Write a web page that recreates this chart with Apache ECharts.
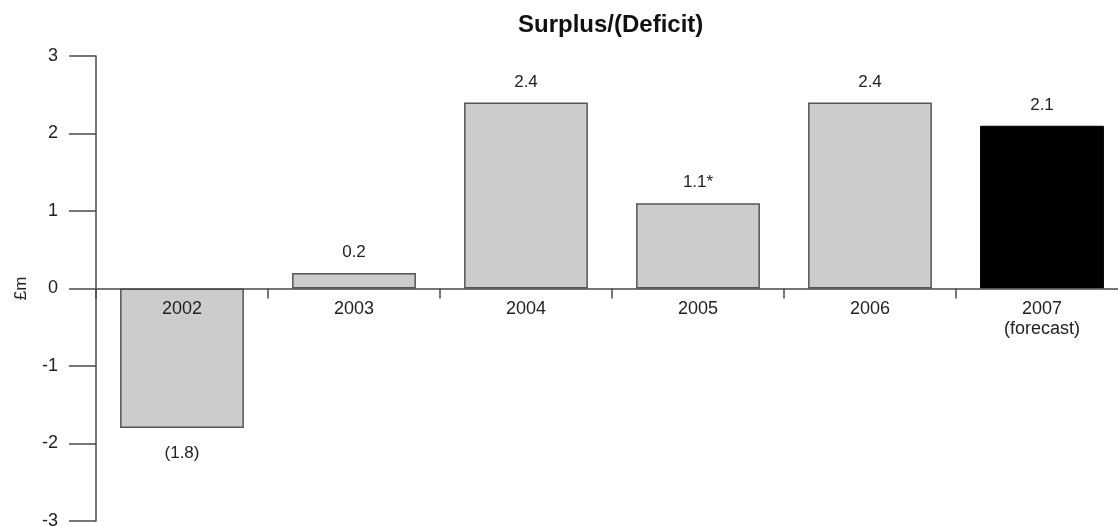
<!DOCTYPE html>
<html>
<head>
<meta charset="utf-8">
<title>Surplus/(Deficit)</title>
<script src="https://cdn.jsdelivr.net/npm/echarts@6/dist/echarts.min.js"></script>
<style>
  html, body { margin: 0; padding: 0; background: #ffffff; }
  #chart { width: 1118px; height: 526px; }
</style>
</head>
<body>
<div id="chart"></div>
<script>
// Annual surplus / (deficit), £m
const categories = ['2002', '2003', '2004', '2005', '2006', '2007\n(forecast)'];
const values = [-1.8, 0.2, 2.4, 1.1, 2.4, 2.1];
const valueLabels = ['(1.8)', '0.2', '2.4', '1.1*', '2.4', '2.1'];
const forecastIndex = 5;
const yTicks = { min: -3, max: 3, interval: 1 };

const FONT = 'Arial, "Liberation Sans", sans-serif';
const TEXT = '#222222';
const LINE = '#4a4a4a';

// plot area; the category axis sits on the zero line, half way down
const GRID = { left: 96, top: 56, width: 1032, height: 465 };
const zeroOffset = GRID.height * (0 - yTicks.min) / (yTicks.max - yTicks.min);

const barData = values.map((v, i) => ({
  value: v,
  itemStyle: i === forecastIndex
    ? { color: '#000000', borderColor: '#000000', borderWidth: 1 }
    : { color: '#cccccc', borderColor: '#555555', borderWidth: 1.5 },
  label: v < 0
    ? { position: 'bottom', distance: 17 }
    : { position: 'top', distance: 12 }
}));

const chart = echarts.init(document.getElementById('chart'), null, { renderer: 'canvas' });
chart.setOption({
  backgroundColor: '#ffffff',
  animation: false,
  textStyle: { fontFamily: FONT, color: TEXT },
  title: {
    text: 'Surplus/(Deficit)',
    left: 513,
    top: 8,
    textStyle: { fontFamily: FONT, fontWeight: 'bold', fontSize: 24, color: '#111111' }
  },
  grid: Object.assign({ containLabel: false, outerBoundsMode: 'none' }, GRID),
  xAxis: {
    type: 'category',
    data: categories,
    position: 'bottom',
    offset: -zeroOffset,
    z: 10,
    axisLine: { onZero: false, lineStyle: { color: LINE, width: 1.5 } },
    axisTick: { show: true, length: 10, inside: false, alignWithLabel: false, interval: 0,
                lineStyle: { color: LINE, width: 1.5 } },
    axisLabel: { interval: 0, margin: 11, fontSize: 18, lineHeight: 20,
                 color: TEXT, fontFamily: FONT, hideOverlap: false }
  },
  yAxis: {
    type: 'value',
    min: yTicks.min,
    max: yTicks.max,
    interval: yTicks.interval,
    name: '£m',
    nameLocation: 'middle',
    nameGap: 66,
    nameRotate: 90,
    nameTextStyle: { fontSize: 17, color: TEXT, fontFamily: FONT },
    splitLine: { show: false },
    axisLine: { show: true, lineStyle: { color: LINE, width: 1.5 } },
    axisTick: { show: true, length: 27, inside: false, lineStyle: { color: LINE, width: 1.5 } },
    axisLabel: { margin: 38, fontSize: 18, color: TEXT, fontFamily: FONT }
  },
  series: [{
    type: 'bar',
    data: barData,
    barWidth: '72%',
    z: 2,
    label: {
      show: true,
      fontSize: 17,
      color: TEXT,
      fontFamily: FONT,
      formatter: p => valueLabels[p.dataIndex]
    }
  }]
});
</script>
</body>
</html>
